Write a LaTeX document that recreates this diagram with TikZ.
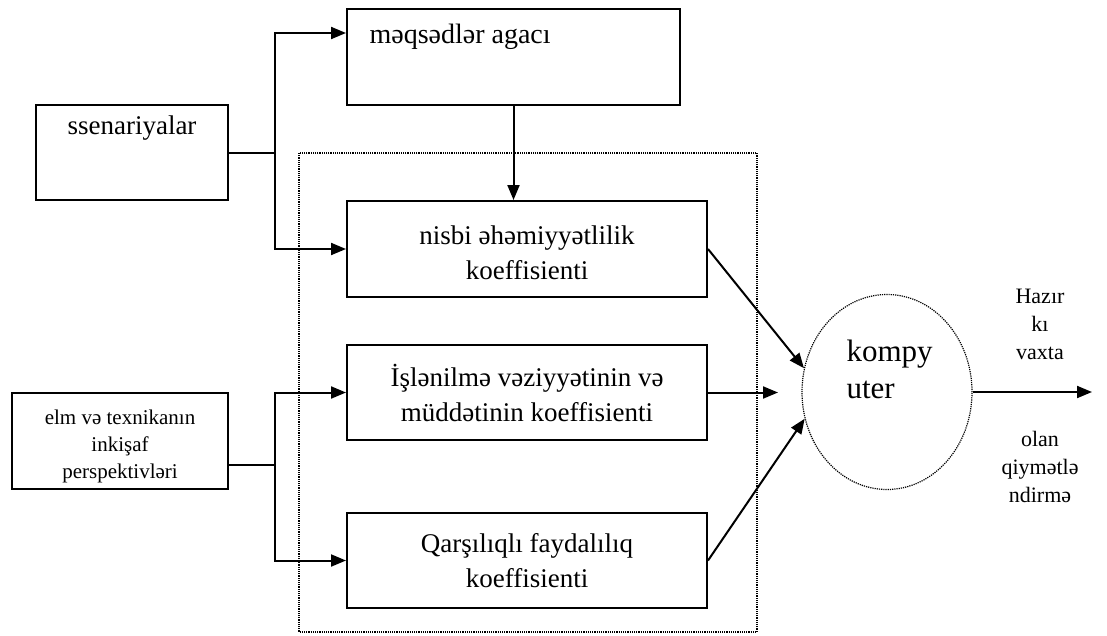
\documentclass[tikz,border=0pt]{standalone}
\usepackage{fontspec}
\setmainfont{Liberation Serif}
\usetikzlibrary{arrows.meta,shapes.geometric,positioning}

\begin{document}
\begin{tikzpicture}[
  x=1pt, y=-1pt,
  every node/.style={font=\fontsize{27}{35}\selectfont, align=center},
  box/.style={rectangle, draw, line width=2pt, inner sep=0pt},
  arr/.style={-{Triangle[length=15pt, width=12pt]}, line width=2pt},
  wire/.style={line width=2pt},
  small/.style={font=\fontsize{22}{28}\selectfont},
]
\useasboundingbox (0,0) rectangle (1107,635);

% outer dotted frame
\draw[densely dotted, line width=1.2pt] (299,153) rectangle (757,632);

% input blocks
\node[box, minimum width=192pt, minimum height=95pt,
  label={[anchor=north, yshift=-8pt]north:ssenariyalar}]
  (ssen) at (132,152.5) {};
\node[font=\fontsize{21}{27}\selectfont] (elmtxt) at (120,446)
  {elm və texnikanın\\inkişaf\\perspektivləri};
\node[box, minimum width=216pt, minimum height=96pt] (elm) at (120,441) {};

% goal tree
\node[box, minimum width=333pt, minimum height=96pt] (tree) at (513.5,57) {};
\node[anchor=west, font=\fontsize{28}{35}\selectfont] (treetxt) at (366,37) {məqsədlər agacı};

% coefficients
\node[box, minimum width=360pt, minimum height=96pt] (nisbi) at (527,249) {};
\node (nisbitxt) at (527,253) {nisbi əhəmiyyətlilik\\koeffisienti};
\node[box, minimum width=360pt, minimum height=95pt] (isl) at (527,392.5)
  {İşlənilmə vəziyyətinin və\\müddətinin koeffisienti};
\node[box, minimum width=360pt, minimum height=95pt] (qars) at (527,560.5)
  {Qarşılıqlı faydalılıq\\koeffisienti};

% computer
\node[ellipse, draw, densely dotted, line width=1.2pt, minimum width=170pt,
  minimum height=195pt] (pc) at (887,392) {};
\node[anchor=west, align=left, font=\fontsize{31}{37}\selectfont] (pctxt) at (843,369)
  {kompy\\uter};

% output labels
\coordinate (out) at (1092,392);
\node[small] (now) at (1040,324) {Hazır\\kı\\vaxta};
\node[small] (eval) at (1040,467) {olan\\qiymətlə\\ndirmə};

% junctions
\coordinate (jS) at (275,152.5);
\coordinate (jE) at (275,465);
\coordinate (midtip) at (778,392.5);

% connectors
\draw[wire] (ssen.east) -- (jS);
\draw[arr] (jS) |- ([yshift=24pt]tree.west);
\draw[arr] (jS) |- (nisbi.west);
\draw[arr] (tree.south) -- (tree.south |- nisbi.north);
\draw[wire] ([yshift=-24pt]elm.east) -- (jE);
\draw[arr] (jE) |- (isl.west);
\draw[arr] (jE) |- (qars.west);
\draw[arr] (nisbi.east) -- (pc.164);
\draw[arr] (isl.east) -- (midtip);
\draw[arr] (qars.east) -- (pc.198);
\draw[arr] (pc.east) -- (out);

\end{tikzpicture}
\end{document}
